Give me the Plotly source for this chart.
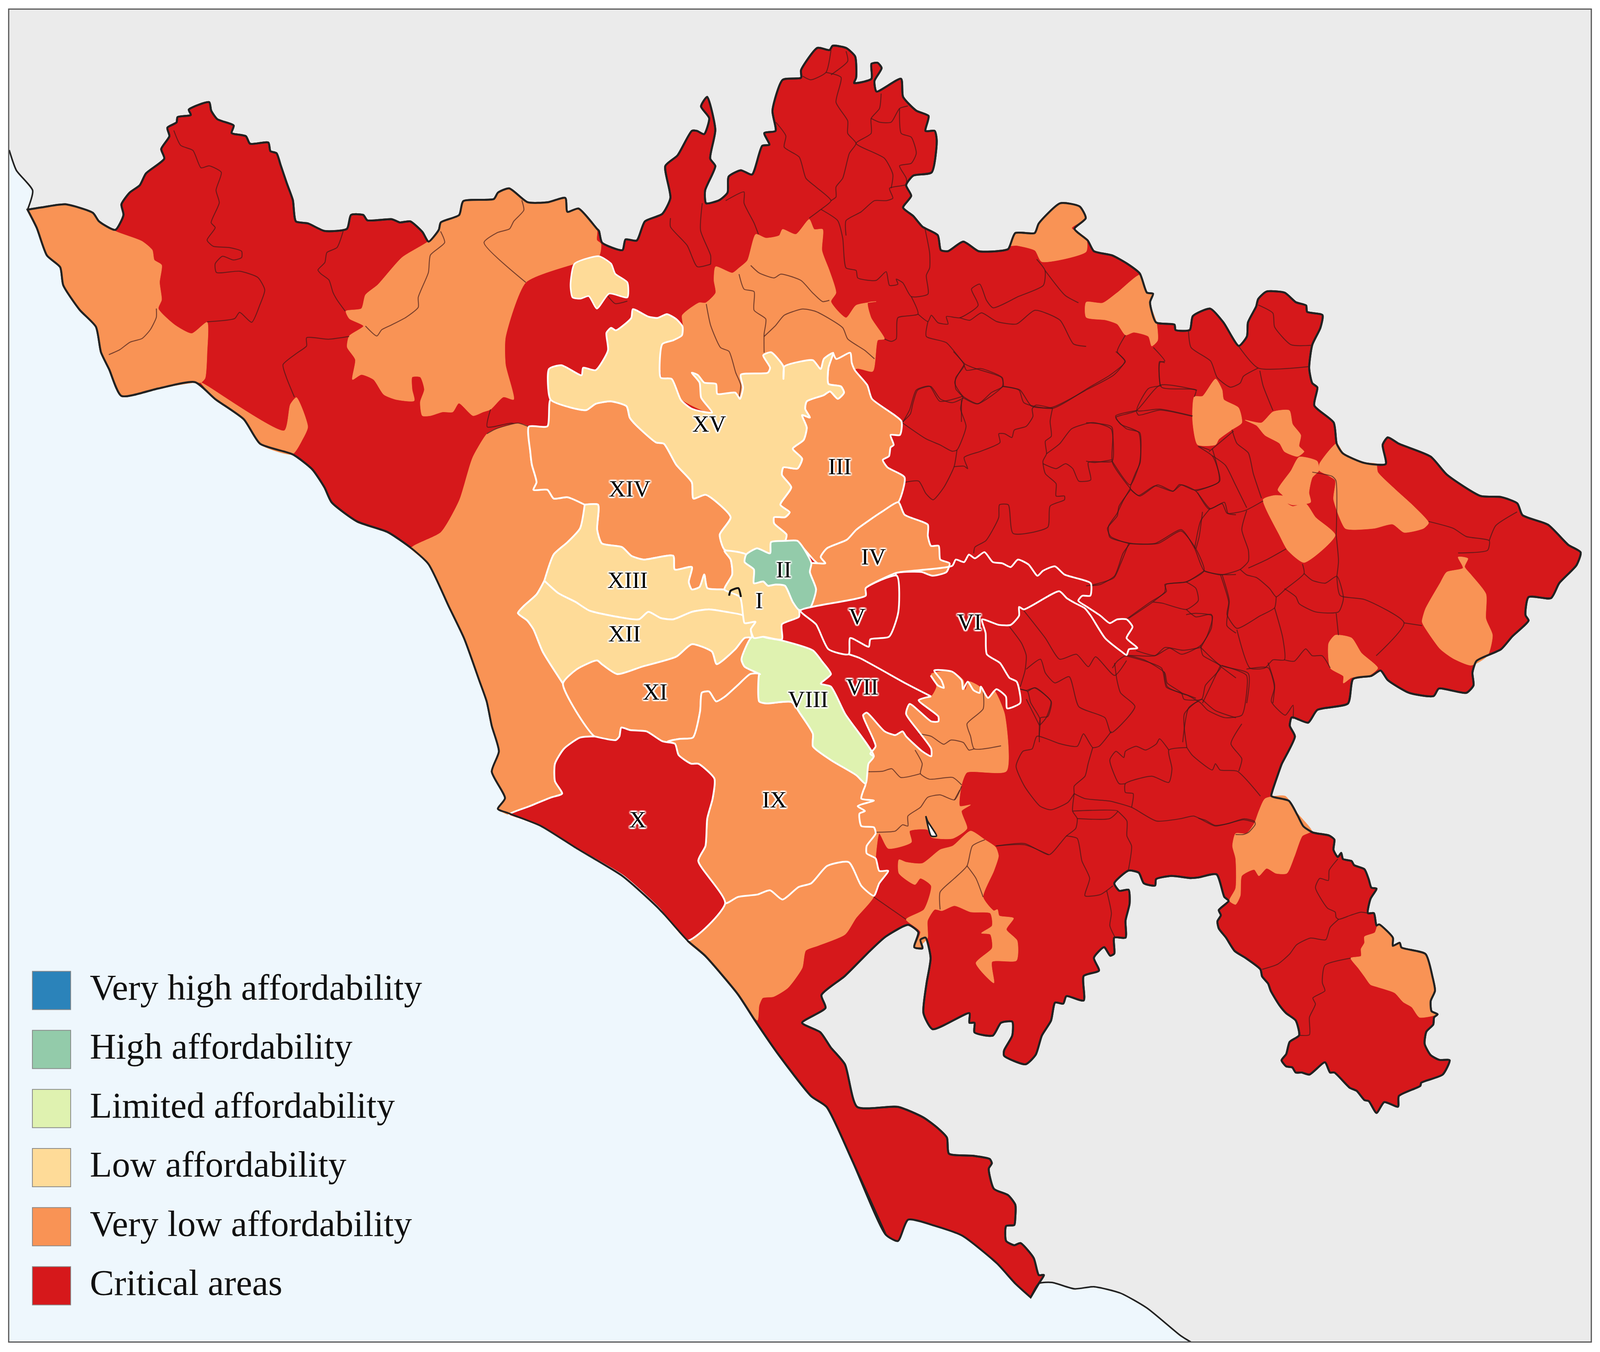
# housing affordability map of the Rome metropolitan area
# all outlines

import plotly.graph_objects as go

SCALE = 4272 / 1568  # picture px per map unit


def crop(x0, y0, w, h, pts):
    return [((x0 + x * w / 1568) / SCALE, (y0 + y * h / 1568) / SCALE) for x, y in pts]


def z1(pts): return crop(1300, 750, 1300, 1000, pts)
def z2(pts): return crop(1300, 1700, 1500, 1000, pts)
def z4(pts): return crop(0, 200, 1700, 1000, pts)
def z5(pts): return crop(2300, 1700, 1300, 1000, pts)
def z6(pts): return crop(2900, 700, 1372, 1100, pts)
def z7(pts): return crop(1500, 80, 1400, 1000, pts)
def z8(pts): return crop(2300, 900, 1000, 1000, pts)
def z10(pts): return crop(3200, 2050, 720, 820, pts)


RED = "#d6181b"
ORANGE = "#f99355"
LOW = "#fedb98"
LIMITED = "#dff2b0"
HIGH = "#93cbaa"
VERY_HIGH = "#2b83ba"
SEA = "#eef7fd"
LAND = "#ebebeb"
BORDER = "#222222"
INNER = "rgba(60,25,25,0.68)"

legend_labels = ["Very high affordability", "High affordability", "Limited affordability",
                 "Low affordability", "Very low affordability", "Critical areas"]
legend_colors = [VERY_HIGH, HIGH, LIMITED, LOW, ORANGE, RED]
legend_y = [930.6, 986.1, 1041.6, 1097.1, 1152.6, 1208.1]

label_text = ["XV", "III", "XIV", "IV", "II", "XIII", "I", "V", "VI", "XII", "XI", "VII", "VIII", "IX", "X"]
label_x = [695, 823, 617, 856, 768, 615, 744, 840, 950, 612, 642, 845, 792, 759, 625]
label_y = [400, 440, 461, 525, 537, 547, 566, 581, 586, 597, 652, 647, 659, 753, 772]

coast_nw = [(9, 141), (16, 160), (32, 179), (27, 197)]
coast_w = [(27, 197), (36, 214), (46, 240), (59, 251), (62, 268), (78, 291), (94, 307), (99, 331), (107, 347),
           (119, 372), (155, 365), (191, 359), (211, 375), (239, 394), (255, 417), (287, 427), (306, 441), (318, 458),
           (325, 472), (350, 490), (380, 500), (403, 515), (420, 530), (440, 570), (455, 600), (470, 640), (477, 659),
           (482, 682), (489, 706), (482, 725), (495, 750), (488, 760), (498, 764), (530, 776), (565, 797), (610, 823),
           (645, 853), (674, 884), (691, 898), (723, 934), (740, 959), (763, 991), (795, 1030), (810, 1040), (835, 1090),
           (868, 1160), (880, 1166), (890, 1146), (917, 1152), (943, 1161), (977, 1187), (995, 1206), (1010, 1219)]
coast_se = [(1010, 1219), (1018, 1206), (1031, 1205), (1053, 1211), (1072, 1209), (1098, 1215), (1124, 1229),
            (1157, 1255), (1167, 1261)]

inland_north = [(27, 197), (40, 195), (64, 192), (91, 200), (97, 208), (113, 216), (121, 202), (119, 192), (127, 181),
                (137, 174), (143, 163), (161, 149), (158, 140), (166, 128), (164, 120), (173, 115), (174, 110),
                (187, 108), (185, 103), (205, 96), (207, 104), (213, 112), (229, 118), (227, 125), (241, 128),
                (245, 135), (263, 134), (265, 142), (271, 144), (275, 155), (281, 172), (287, 188), (290, 208),
                (302, 210), (318, 217), (340, 215), (344, 202), (356, 202), (360, 207), (384, 206), (392, 209),
                (402, 208), (414, 218), (420, 227), (430, 216), (432, 209), (450, 202), (454, 189), (484, 187),
                (488, 181), (499, 177), (517, 190), (537, 190), (554, 186), (556, 199), (567, 196), (585, 215),
                (587, 217), (590, 228), (610, 235), (613, 225), (624, 226), (632, 208), (649, 201), (657, 186),
                (652, 156), (664, 146), (678, 123), (683, 123), (690, 126), (695, 111), (687, 100), (693, 91),
                (701, 122), (696, 149), (701, 156), (691, 179), (692, 191), (705, 188), (713, 181), (714, 166),
                (726, 160), (737, 164), (747, 137), (754, 136), (749, 125), (760, 123), (757, 104), (767, 75),
                (785, 73), (785, 66), (801, 45), (813, 47), (816, 43), (829, 45), (838, 53), (839, 73), (837, 78),
                (854, 74), (854, 60), (860, 59), (864, 64), (857, 76), (859, 86), (883, 74), (885, 91), (898, 104),
                (910, 109), (907, 123), (916, 123), (918, 132), (913, 162), (895, 165), (888, 174), (893, 184),
                (885, 195), (895, 203), (904, 213), (919, 221), (922, 235), (929, 236), (944, 227), (959, 236),
                (977, 236), (988, 234), (995, 219), (1014, 219), (1018, 210), (1039, 191), (1058, 194), (1064, 205),
                (1053, 215), (1066, 226), (1072, 236), (1090, 240), (1105, 248), (1117, 257), (1124, 275), (1130, 276),
                (1127, 284), (1133, 303), (1151, 305), (1152, 310), (1166, 310), (1169, 297), (1186, 290), (1199, 303),
                (1214, 325), (1222, 316), (1223, 303), (1231, 288), (1233, 281), (1241, 274), (1259, 275), (1270, 284),
                (1280, 287), (1281, 293), (1296, 296), (1294, 308), (1286, 324), (1283, 346), (1286, 360), (1291, 364),
                (1288, 381), (1307, 397), (1310, 417), (1316, 426), (1337, 435), (1358, 436), (1355, 418), (1360, 411),
                (1371, 417), (1402, 429), (1418, 446), (1451, 466), (1471, 467), (1487, 473), (1492, 484), (1517, 493),
                (1537, 512), (1549, 519), (1545, 531), (1528, 548), (1520, 562), (1498, 561), (1495, 578), (1498, 583),
                (1482, 598), (1471, 610), (1447, 621), (1443, 632), (1444, 644), (1437, 651), (1410, 647), (1405, 654),
                (1381, 651), (1360, 639), (1353, 630), (1344, 635), (1326, 638), (1321, 661), (1291, 667), (1282, 679),
                (1266, 674), (1264, 682), (1269, 692), (1256, 718), (1253, 726), (1247, 743), (1246, 748)]
inland_southeast = z10([(525, 0), (575, 70), (610, 125), (665, 155), (760, 170), (790, 190), (785, 240), (810, 275),
                        (830, 255), (840, 285), (890, 295), (905, 315), (965, 335), (990, 385), (1005, 425), (1035, 430),
                        (1000, 480), (985, 550), (1020, 550), (1035, 610), (1050, 605), (1130, 670), (1130, 710),
                        (1170, 695), (1180, 718), (1320, 750), (1360, 860), (1375, 930), (1350, 980), (1355, 1030),
                        (1390, 1045), (1370, 1060), (1365, 1095), (1325, 1130), (1315, 1190), (1350, 1245), (1400, 1268),
                        (1460, 1270), (1420, 1340), (1295, 1380), (1290, 1395), (1165, 1445), (1160, 1497), (1080, 1475),
                        (1035, 1528), (990, 1470), (965, 1465), (920, 1420), (880, 1405), (790, 1330), (765, 1330),
                        (735, 1280), (645, 1340), (600, 1330), (565, 1330), (545, 1305), (510, 1300), (483, 1270),
                        (510, 1240), (530, 1180), (585, 1148), (565, 1075), (510, 1040), (470, 1000), (420, 930),
                        (405, 895), (370, 860), (360, 825), (275, 770), (210, 735), (160, 670), (118, 625), (110, 590),
                        (130, 560), (118, 535), (175, 490), (150, 470), (105, 360), (0, 375)])
inland_south = [(1167, 825), (1148, 823), (1133, 826), (1132, 832), (1121, 830), (1116, 820), (1106, 818), (1092, 830),
                (1097, 837), (1106, 836), (1107, 849), (1103, 865), (1103, 881), (1092, 881), (1092, 896), (1088, 898),
                (1082, 890), (1072, 900), (1077, 912), (1062, 917), (1062, 940), (1045, 936), (1042, 943), (1034, 942),
                (1030, 959), (1021, 973), (1015, 991), (1005, 1000), (984, 992), (984, 987), (992, 973), (992, 960),
                (981, 961), (973, 973), (955, 970), (955, 961), (950, 961), (950, 952), (914, 967), (905, 952),
                (908, 924), (912, 900), (907, 881), (902, 883), (904, 891), (896, 890), (900, 876), (890, 869),
                (868, 880), (853, 893), (828, 917), (805, 935), (809, 947), (786, 961), (804, 970), (814, 984),
                (828, 1000), (840, 1040), (880, 1040), (905, 1050), (919, 1060), (928, 1069), (930, 1084), (954, 1086),
                (970, 1089), (972, 1093), (969, 1098), (974, 1117), (988, 1123), (995, 1132), (995, 1144), (994, 1151),
                (986, 1152), (986, 1166), (994, 1170), (1000, 1168), (1013, 1182), (1018, 1198), (1023, 1198),
                (1018, 1206), (1010, 1219)]
inland_border = inland_north + inland_southeast + inland_south

# white boundary shared by XV with III
xv_iii_edge = [(1115, 240), (1100, 300), (1100, 365), (1140, 375), (1150, 400), (1130, 425), (1105, 395), (1085, 410),
               (1030, 435), (1025, 465), (1040, 500), (1015, 490), (1030, 540), (1020, 590), (985, 625), (1015, 665),
               (1000, 705), (955, 700), (950, 730), (980, 780), (945, 850), (975, 880), (960, 900), (925, 900),
               (925, 925), (965, 970), (960, 995)]
# white boundary shared by XV with XIV, south to north
xv_xiv_edge = [(765, 1030), (750, 970), (785, 900), (705, 810), (665, 825), (660, 760), (610, 690), (570, 605),
               (545, 600), (480, 530), (460, 500), (450, 455), (400, 435), (350, 445), (320, 470), (270, 460), (205, 428)]
xiii_xii_edge = [(185, 1155), (230, 1205), (285, 1240), (330, 1275), (420, 1300), (490, 1310), (520, 1280), (560, 1305),
                 (600, 1310), (660, 1280), (715, 1270), (770, 1280), (825, 1295)]
xiv_xiii_edge = [(315, 850), (358, 850), (355, 950), (370, 1005), (435, 1020), (465, 1055), (505, 1070), (600, 1055),
                 (605, 1110), (660, 1100), (650, 1160), (660, 1190), (685, 1180), (700, 1130), (710, 1185), (765, 1190)]
fiumicino_xiv_edge = [(135, 537), (140, 640), (145, 690), (160, 760), (150, 790), (195, 790), (215, 825), (260, 820),
                      (315, 850)]
fiumicino_xiii_edge = [(315, 850), (300, 945), (260, 1000), (215, 1050), (185, 1155)]
fiumicino_xii_edge = [(185, 1155), (160, 1210), (120, 1255), (100, 1285), (130, 1315), (150, 1350), (180, 1440),
                      (245, 1568)]
xii_xi_edge = [(245, 1568), (290, 1510), (355, 1475), (370, 1490), (420, 1530), (500, 1500), (610, 1460), (660, 1410),
               (725, 1440), (740, 1490), (800, 1430), (830, 1385), (855, 1385)]
x_edge = [(300, 290), (360, 305), (370, 290), (375, 255), (400, 265), (445, 270), (490, 310), (525, 320), (535, 365),
          (570, 400), (590, 400), (635, 460), (630, 540), (615, 620), (610, 730), (590, 790), (665, 960)]
x_fiumicino_edge = [(61, 605), (120, 570), (180, 535), (210, 520), (190, 470), (190, 400), (215, 340), (260, 295),
                    (300, 290)]
ix_south_edge = [(665, 960), (700, 935), (755, 925), (790, 908), (825, 945), (870, 895), (905, 880), (950, 810),
                 (1010, 795), (1045, 890), (1080, 930)]
ix_east_edge = [(1080, 930), (1095, 880), (1120, 830), (1095, 830), (1085, 780), (1060, 760), (1060, 730), (1085, 680),
                (1080, 655), (1045, 650), (1040, 600), (1055, 590), (1035, 570), (1080, 548), (1045, 540), (1050, 510),
                (1057, 480)]
viii_ix_edge = [(1057, 480), (1030, 445), (960, 385), (910, 330), (910, 280), (875, 200), (850, 152), (780, 158),
                (760, 150), (760, 40)]
xi_ix_edge = [(735, 40), (700, 85), (665, 130), (640, 150), (620, 110), (600, 115), (595, 190), (575, 295), (540, 300),
              (505, 310), (525, 320)]
vii_cluster_edge = [(1240, 130), (1205, 145), (1260, 210), (1260, 230), (1240, 230), (1180, 160), (1170, 200),
                    (1205, 270), (1240, 340), (1240, 370), (1215, 350), (1170, 290), (1160, 270), (1140, 285),
                    (1110, 270), (1060, 195), (1050, 205), (1085, 330), (1070, 360)]
vi_cluster_edge = [(290, 1300), (320, 1340), (345, 1350), (335, 1320), (305, 1280), (380, 1285), (420, 1320),
                   (425, 1355), (445, 1325), (470, 1360), (495, 1370), (500, 1345), (530, 1390), (565, 1355),
                   (605, 1385), (610, 1432), (665, 1410), (650, 1325), (620, 1310), (580, 1250), (525, 1215),
                   (520, 1130), (505, 1075), (575, 1097), (625, 1097), (660, 1060), (660, 1025), (680, 1035),
                   (828, 962), (860, 990), (895, 1010), (935, 1030), (960, 1060), (1020, 1150), (1090, 1205),
                   (1110, 1218), (1120, 1195), (1155, 1190), (1110, 1150), (1135, 1105), (1110, 1075), (1070, 1075),
                   (1040, 1090), (1000, 1060), (945, 1025), (908, 1000), (925, 980), (958, 980), (960, 930), (850, 895),
                   (810, 862), (760, 880), (737, 900), (700, 855), (655, 835), (625, 865), (590, 850), (550, 845),
                   (515, 805), (475, 830), (450, 815), (430, 845), (395, 835), (380, 860)]

orange_areas = [
    z4([(68, 530), (100, 518), (160, 508), (230, 540), (245, 575), (285, 615), (350, 655), (375, 690), (380, 730),
        (398, 750), (393, 820), (398, 890), (390, 925), (430, 990), (472, 1025), (510, 980), (510, 1100), (505, 1205),
        (495, 1222), (480, 1222), (390, 1245), (300, 1275), (268, 1170), (250, 1100), (235, 1000), (195, 930),
        (155, 830), (148, 760), (115, 710), (90, 600)]),
    z4([(495, 1222), (510, 1235), (700, 1415), (715, 1310), (730, 1282), (758, 1400), (745, 1450), (720, 1510),
        (640, 1470), (600, 1370), (530, 1290)]),
    z4([(1055, 655), (1080, 610), (1085, 580), (1130, 550), (1140, 495), (1215, 485), (1225, 460), (1255, 445),
        (1300, 500), (1350, 500), (1392, 480), (1397, 535), (1425, 525), (1470, 605), (1470, 650), (1480, 665),
        (1475, 715), (1415, 745), (1295, 820), (1245, 1040), (1245, 1150), (1265, 1290), (1240, 1280), (1208, 1330),
        (1190, 1340), (1165, 1355), (1130, 1305), (1115, 1340), (1090, 1340), (1060, 1355), (1040, 1355), (1035, 1300),
        (1045, 1250), (1035, 1200), (1015, 1200), (1015, 1250), (1020, 1295), (975, 1290), (945, 1270), (920, 1210),
        (890, 1190), (868, 1210), (875, 1130), (855, 1080), (860, 1035), (895, 995), (860, 965), (852, 935), (890, 925),
        (900, 870), (930, 830), (990, 720)]),
    z7([(460, 945), (510, 970), (530, 950), (555, 920), (580, 815), (610, 830), (650, 820), (660, 795), (700, 815),
        (740, 755), (755, 795), (780, 795), (778, 880), (800, 960), (820, 1050), (805, 1085), (850, 1150), (880, 1100),
        (940, 1085), (915, 1090), (925, 1150), (965, 1235), (945, 1240), (930, 1365), (880, 1355), (800, 1500),
        (440, 1530), (350, 1470), (325, 1395), (300, 1390), (300, 1260), (350, 1220), (362, 1180), (360, 1140),
        (410, 1090), (430, 1090), (460, 1050), (455, 1000)]),
    z7([(1340, 860), (1355, 810), (1415, 810), (1425, 770), (1490, 690), (1550, 705), (1568, 750), (1525, 790),
        (1568, 830), (1568, 885), (1435, 925), (1415, 880), (1360, 860)]),
    z6([(0, 105), (50, 108), (95, 70), (165, 5), (185, 70), (205, 75), (195, 105), (215, 180), (218, 245), (200, 265),
        (190, 230), (145, 215), (120, 225), (95, 185), (60, 170), (0, 160)]),
    z6([(330, 450), (355, 448), (395, 385), (415, 425), (420, 460), (465, 490), (475, 545), (445, 570), (405, 605),
        (395, 625), (340, 625), (325, 540)]),
    z6([(485, 535), (535, 545), (570, 505), (620, 500), (630, 550), (655, 590), (650, 630), (665, 650), (645, 668),
        (605, 650), (590, 620), (545, 590), (520, 555)]),
    z6([(650, 670), (705, 685), (710, 720), (690, 745), (680, 800), (685, 835), (630, 845), (610, 835), (600, 810),
        (585, 790), (625, 720)]),
    z6([(540, 825), (575, 810), (610, 815), (615, 840), (630, 850), (670, 840), (700, 890), (760, 955), (665, 1055),
        (615, 1010), (590, 955)]),
    z6([(712, 695), (765, 620), (785, 655), (850, 690), (885, 695), (890, 725), (945, 790), (1000, 850), (1045, 910),
        (1030, 930), (970, 945), (935, 915), (880, 930), (815, 935), (790, 930), (755, 825), (760, 755), (735, 735),
        (712, 720)]),
    z6([(1135, 1035), (1165, 1040), (1155, 1070), (1175, 1100), (1220, 1170), (1220, 1260), (1240, 1320), (1225, 1395),
        (1175, 1430), (1120, 1405), (1080, 1370), (1030, 1285), (1025, 1270), (1035, 1225), (1080, 1130), (1100, 1090),
        (1150, 1075)]),
    z6([(760, 1320), (810, 1330), (840, 1385), (890, 1440), (860, 1470), (810, 1475), (785, 1495), (785, 1470),
        (745, 1440), (740, 1350)]),
    z5([(1300, 540), (1365, 530), (1405, 600), (1450, 670), (1420, 690), (1395, 770), (1370, 840), (1335, 840),
        (1305, 820), (1280, 850), (1265, 825), (1225, 850), (1220, 930), (1205, 965), (1185, 950), (1205, 900),
        (1205, 780), (1195, 730), (1205, 680), (1240, 680), (1265, 640), (1280, 590)]),
    z10([(1045, 605), (1130, 670), (1130, 710), (1170, 695), (1180, 718), (1320, 750), (1360, 860), (1375, 930),
         (1350, 980), (1355, 1030), (1390, 1045), (1285, 1060), (1240, 1010), (1190, 985), (1140, 940), (1035, 910),
         (1000, 900), (965, 860), (930, 820), (885, 770), (945, 760), (945, 725), (965, 695), (965, 665), (1025, 645)]),
    # colli albani side, north cluster
    z2(vii_cluster_edge + [(1065, 400), (1057, 480)] + ix_east_edge[::-1]
       + [(1095, 680), (1120, 740), (1185, 715), (1180, 670), (1230, 665), (1240, 695), (1300, 700), (1340, 660),
          (1325, 590), (1350, 565), (1320, 570), (1325, 485), (1340, 435), (1450, 430), (1445, 200), (1415, 105),
          (1400, 135), (1375, 90), (1345, 70), (1335, 105), (1330, 65), (1300, 30), (1265, 30), (1240, 40), (1255, 90)]),
    z2([(1150, 785), (1170, 795), (1215, 800), (1265, 745), (1300, 730), (1350, 670), (1390, 705), (1420, 735),
        (1428, 770), (1415, 830), (1385, 935), (1415, 990), (1425, 985), (1430, 1010), (1470, 1020), (1450, 1065),
        (1480, 1110), (1478, 1190), (1410, 1195), (1415, 1280), (1365, 1200), (1410, 1140), (1405, 1085), (1380, 1080),
        (1410, 1050), (1405, 1000), (1350, 995), (1305, 970), (1270, 990), (1250, 985), (1230, 1030), (1230, 1100),
        (1215, 1125), (1215, 1135), (1195, 1135), (1210, 1075), (1170, 1025), (1220, 985), (1240, 890), (1210, 860),
        (1195, 885), (1150, 840)]),
    # pomezia side, south of IX
    z2(ix_south_edge + [(1030, 1020), (1000, 1085), (925, 1130), (890, 1150), (880, 1220), (840, 1300), (800, 1335),
                        (770, 1340), (760, 1370), (755, 1430), (700, 1325), (610, 1172), (560, 1110)]),
]

inner_lines = [
    z4([(385, 925), (385, 960), (370, 1010), (350, 1045), (320, 1060), (295, 1090), (268, 1110)]),
    z4([(1085, 615), (1095, 660), (1060, 710), (1055, 780), (1030, 880), (1030, 920), (1000, 960), (965, 990),
        (940, 1010), (928, 1035), (900, 995)]),
    z4([(1285, 490), (1290, 530), (1265, 575), (1255, 605), (1225, 620), (1192, 660), (1295, 820)]),
    z4([(428, 210), (445, 270), (475, 290), (495, 360), (515, 352), (545, 378), (532, 450), (540, 500), (520, 580),
        (530, 600), (510, 650), (525, 675), (565, 680), (595, 695), (595, 720), (575, 730), (548, 715), (530, 745),
        (533, 780), (590, 775), (635, 800), (652, 850), (640, 910), (620, 980), (590, 940), (578, 965), (510, 978)]),
    z4([(845, 615), (830, 680), (805, 700), (800, 740), (783, 770), (790, 785), (810, 810), (820, 860), (830, 890),
        (850, 935)]),
    z4([(860, 1037), (810, 1048), (755, 1042), (755, 1075), (730, 1105), (697, 1150), (705, 1200), (725, 1280)]),
    z4([(1208, 1330), (1200, 1400), (1260, 1385), (1290, 1398), (1303, 1400)]),
    z7([(325, 750), (325, 785), (375, 860), (405, 945), (445, 935)]),
    z7([(420, 690), (415, 800), (445, 900), (445, 935)]),
    z7([(490, 680), (545, 645), (545, 690), (575, 770), (588, 815)]),
    z7([(640, 365), (670, 420), (665, 465), (710, 505), (730, 590), (760, 625), (805, 680), (775, 715), (740, 750)]),
    z7([(720, 180), (745, 195), (790, 165), (805, 75)]),
    z7([(790, 165), (835, 185), (820, 285), (855, 360), (855, 410), (880, 450), (860, 490), (840, 590), (820, 625),
        (820, 665), (805, 680)]),
    z7([(850, 80), (855, 120), (805, 175)]),
    z7([(955, 250), (950, 310), (925, 350), (925, 410), (880, 450), (965, 510), (990, 575), (985, 630)]),
    z7([(925, 350), (950, 365), (985, 365), (1010, 310), (1035, 300)]),
    z7([(1010, 310), (1015, 410), (1045, 425), (1060, 490), (1045, 530), (1010, 540), (1030, 590), (1030, 615),
        (980, 630), (990, 670), (970, 680), (935, 680), (895, 725), (850, 760), (850, 820)]),
    z7([(775, 715), (825, 760), (840, 830), (850, 950), (880, 960), (885, 990), (940, 1000), (970, 965), (980, 1020),
        (1005, 1015), (1000, 995), (1020, 1010), (1045, 1065), (1095, 1055), (1090, 980), (1100, 950), (1100, 890),
        (1085, 785)]),
    z7([(1045, 1065), (1065, 1135), (1005, 1150), (1000, 1235), (985, 1245), (965, 1235)]),
    z7([(1065, 1135), (1095, 1165), (1105, 1140), (1125, 1170), (1155, 1175), (1150, 1145), (1190, 1150), (1245, 1100),
        (1225, 1035), (1250, 1015), (1270, 1080), (1290, 1110), (1365, 1065), (1440, 1020), (1445, 960), (1420, 915)]),
    z7([(1095, 1165), (1090, 1225), (1150, 1250), (1205, 1335), (1240, 1355), (1315, 1390), (1320, 1425), (1285, 1450),
        (1245, 1495), (1200, 1465), (1175, 1410), (1205, 1335)]),
    z7([(1190, 1150), (1220, 1160), (1255, 1130), (1300, 1165), (1360, 1175), (1415, 1120), (1490, 1160), (1530, 1255),
        (1568, 1265)]),
    z7([(1320, 1425), (1370, 1440), (1405, 1505), (1465, 1510), (1568, 1440)]),
    z7([(1200, 1465), (1130, 1485), (1100, 1425), (1060, 1440), (1040, 1520), (1020, 1568)]),
    z7([(1445, 960), (1505, 1060), (1545, 1090)]),
    z7([(1195, 1480), (1195, 1568)]),
    z7([(530, 975), (545, 1035), (575, 1045), (575, 1120), (610, 1155), (605, 1215), (605, 1290)]),
    z7([(565, 940), (590, 970), (635, 990), (655, 975), (715, 1000), (750, 1050), (780, 1085), (800, 1080)]),
    z7([(605, 1225), (640, 1180), (665, 1140), (720, 1115), (760, 1125), (840, 1190), (855, 1235), (905, 1280),
        (935, 1315)]),
    z7([(432, 1095), (445, 1180), (475, 1270), (500, 1285), (520, 1370), (535, 1420), (530, 1470)]),
    z8([(170, 285), (205, 250), (215, 210), (235, 155), (290, 140), (330, 190), (380, 205), (425, 185), (395, 150),
        (395, 105), (430, 55), (385, 0)]),
    z8([(425, 185), (485, 210), (590, 140), (590, 105), (500, 68), (440, 75), (430, 55)]),
    z8([(590, 140), (660, 155), (680, 205), (800, 228), (960, 140), (1040, 95), (1105, 40), (1065, 0)]),
    z8([(425, 185), (415, 230), (438, 300), (400, 395), (380, 400), (330, 375), (270, 350), (170, 285)]),
    z8([(400, 395), (388, 462), (345, 545), (300, 595), (270, 570), (240, 520), (180, 525)]),
    z8([(388, 462), (430, 460), (445, 470), (430, 425), (500, 400), (580, 365), (575, 330), (600, 330), (630, 345),
        (640, 315), (690, 300), (718, 260), (715, 230), (730, 215), (800, 228)]),
    z8([(800, 228), (790, 280), (795, 340), (770, 360), (775, 410), (760, 440), (770, 490), (815, 530), (815, 580),
        (850, 580), (850, 595), (790, 620), (780, 705), (635, 730), (615, 615), (578, 615), (575, 665), (550, 715),
        (520, 760), (475, 785), (470, 810)]),
    z8([(775, 410), (830, 370), (880, 310), (970, 285), (1045, 310), (1055, 380), (1050, 440), (950, 445), (960, 515),
        (910, 520), (885, 470), (855, 450), (815, 470), (760, 450)]),
    z8([(1050, 440), (1125, 535), (1165, 445), (1165, 325), (1110, 310), (1065, 265), (1150, 238), (1250, 135),
        (1405, 155)]),
    z8([(1150, 238), (1160, 255), (1250, 235), (1385, 260)]),
    z8([(1250, 135), (1248, 40), (1270, 45)]),
    z8([(1125, 550), (1095, 600), (1070, 650), (1035, 700), (1040, 745), (1130, 770), (1230, 770), (1340, 715),
        (1395, 790), (1435, 880), (1510, 895), (1568, 895)]),
    z8([(1125, 550), (1165, 580), (1240, 535), (1305, 560), (1340, 535), (1400, 560), (1460, 630), (1520, 605),
        (1535, 650), (1568, 655)]),
    z8([(1125, 770), (1095, 810), (1060, 900), (1000, 935), (960, 940)]),
    z8([(1460, 630), (1420, 680), (1395, 790)]),
    z8([(1400, 560), (1500, 520), (1470, 420), (1410, 380), (1458, 395)]),
    z8([(1435, 880), (1360, 925), (1275, 935), (1270, 965), (1220, 1005), (1120, 1070)]),
    z8([(1220, 1005), (1260, 1010), (1360, 1035), (1410, 1000), (1400, 950), (1360, 925)]),
    z8([(1360, 1035), (1400, 1065), (1465, 1055), (1465, 1110), (1420, 1180), (1340, 1215), (1290, 1190), (1230, 1220),
        (1150, 1200)]),
    z8([(1420, 1180), (1430, 1220), (1505, 1265), (1440, 1340), (1425, 1395), (1350, 1395), (1340, 1370), (1280, 1330),
        (1270, 1290), (1190, 1240), (1120, 1220)]),
    z8([(1505, 1265), (1568, 1310)]),
    z8([(1510, 895), (1540, 1000), (1530, 1100), (1568, 1130)]),
    z8([(1425, 1395), (1370, 1430), (1345, 1568)]),
    z8([(1425, 1395), (1480, 1440), (1568, 1470)]),
    z8([(620, 1105), (670, 1170), (690, 1220), (685, 1280), (665, 1345)]),
    z8([(680, 1040), (770, 1150), (830, 1235), (900, 1215), (950, 1265), (980, 1225), (1060, 1300), (1110, 1240)]),
    z8([(1060, 1250), (1070, 1320), (1085, 1370), (1145, 1425), (1045, 1530), (1020, 1470), (910, 1425), (870, 1305),
        (810, 1330), (770, 1290), (750, 1235), (690, 1275)]),
    z8([(665, 1355), (690, 1360), (725, 1350), (795, 1405), (780, 1465), (750, 1470), (745, 1568)]),
    z8([(690, 1395), (745, 1500)]),
    z5([(805, 270), (765, 330), (745, 335), (715, 280), (695, 330), (640, 320), (565, 290), (550, 340), (520, 350),
        (498, 410), (525, 490), (575, 570), (610, 585), (665, 555), (685, 520)]),
    z5([(745, 335), (730, 400), (720, 450), (685, 490), (685, 520), (680, 590), (695, 620), (690, 660), (660, 690),
        (640, 720), (605, 765), (525, 720), (435, 730)]),
    z5([(685, 520), (720, 540), (800, 550), (870, 575), (950, 630), (1030, 620), (1070, 610), (1140, 650), (1230, 625),
        (1265, 635)]),
    z5([(680, 590), (825, 590), (800, 620), (695, 620)]),
    z5([(825, 590), (855, 630), (855, 690), (870, 730), (860, 825)]),
    z5([(870, 575), (875, 520), (850, 515), (850, 480), (935, 450), (990, 475), (1000, 420), (990, 345), (1048, 335)]),
    z5([(850, 480), (830, 480), (800, 385), (820, 350), (845, 375), (850, 350), (885, 330), (915, 345), (950, 320),
        (960, 300), (990, 345)]),
    z5([(1048, 335), (1040, 200), (1085, 150), (1115, 185), (1170, 215), (1225, 205), (1240, 120), (1240, 45),
        (1160, 5)]),
    z5([(1085, 150), (1050, 125), (1035, 120), (985, 90), (975, 30)]),
    z5([(1048, 335), (1065, 365), (1130, 425), (1140, 400), (1155, 425), (1210, 430), (1285, 530)]),
    z5([(1215, 430), (1225, 380), (1190, 320), (1225, 240)]),
    z5([(1240, 20), (1310, 15), (1330, 95), (1320, 150), (1365, 205), (1390, 165), (1390, 220)]),
    z5([(660, 690), (695, 700), (710, 790), (735, 860), (720, 930), (770, 925), (810, 890)]),
    z5([(790, 910), (805, 1000), (800, 1050), (818, 1100)]),
    z5([(510, 100), (535, 110), (545, 155), (575, 220), (572, 290)]),
    z5([(535, 110), (560, 95), (610, 150), (595, 215), (575, 245)]),
    z10([(0, 85), (40, 95), (95, 120), (170, 112), (265, 88), (325, 100), (330, 115), (290, 155), (260, 165), (215, 165)]),
    z10([(810, 285), (760, 340), (755, 390), (705, 380), (680, 425), (750, 525), (795, 545), (800, 570), (815, 580),
         (885, 560), (945, 545), (985, 550)]),
    z10([(815, 580), (765, 620), (740, 680), (650, 672), (570, 705), (530, 750), (460, 800), (370, 825)]),
    z10([(885, 770), (735, 805), (720, 890), (735, 930), (665, 965), (680, 995), (645, 1060), (645, 1145), (585, 1148)]),
    z6([(525, 115), (570, 145), (575, 195), (625, 260), (690, 262)]),
    z6([(465, 265), (525, 345), (680, 340)]),
    z6([(525, 345), (480, 375), (470, 400), (440, 415), (400, 380), (380, 320), (320, 270), (312, 205)]),
    z6([(530, 355), (540, 410), (570, 500)]),
    z6([(205, 270), (240, 320), (225, 325), (230, 415), (335, 425), (330, 450)]),
    z6([(120, 225), (95, 285), (118, 320), (85, 370), (0, 425)]),
    z6([(230, 410), (190, 420), (155, 500), (225, 495), (325, 520)]),
    z6([(155, 500), (90, 520), (105, 550), (160, 580), (165, 690), (150, 730), (135, 785), (160, 810), (210, 775),
        (265, 795), (285, 770), (330, 790), (405, 760), (385, 640)]),
    z6([(375, 650), (450, 575)]),
    z6([(445, 570), (460, 620), (495, 655), (510, 730), (535, 820)]),
    z6([(385, 665), (425, 700), (455, 770), (490, 855)]),
    z6([(340, 800), (375, 860), (415, 840), (430, 875), (485, 865), (540, 830)]),
    z6([(135, 785), (80, 690), (78, 560), (0, 545)]),
    z6([(78, 680), (25, 690), (0, 685)]),
    z6([(135, 790), (100, 850), (95, 885), (65, 930), (75, 960), (130, 985), (220, 985), (290, 940), (335, 1005),
        (360, 1085), (305, 1125), (265, 1130), (240, 1135), (245, 1160), (195, 1200), (125, 1260)]),
    z6([(130, 985), (105, 1060), (85, 1110), (25, 1135), (0, 1140)]),
    z6([(490, 865), (475, 935), (495, 1010), (495, 1050), (470, 1080), (410, 1100), (360, 1085)]),
    z6([(355, 870), (345, 960), (335, 1005)]),
    z6([(470, 1080), (490, 1100), (520, 1110), (560, 1150), (580, 1180), (610, 1150), (665, 1095), (660, 1060)]),
    z6([(495, 1075), (550, 1045), (610, 1005)]),
    z6([(665, 1095), (690, 1120), (730, 1130), (765, 1105), (785, 1185), (770, 1235), (700, 1235), (650, 1205),
        (640, 1180), (605, 1150)]),
    z6([(580, 1180), (575, 1220), (530, 1250), (460, 1295), (430, 1245), (435, 1200), (410, 1100)]),
    z6([(575, 1220), (600, 1330), (605, 1410), (570, 1410), (545, 1440), (500, 1440), (460, 1300)]),
    z6([(605, 1410), (635, 1415), (670, 1370), (690, 1395), (720, 1395), (745, 1440)]),
    z6([(765, 1105), (775, 1175), (850, 1190), (970, 1275), (885, 1395)]),
    z6([(763, 1240), (770, 1320)]),
    z6([(763, 955), (770, 1050), (765, 1105)]),
    z6([(1045, 905), (1120, 930), (1160, 960), (1230, 975), (1225, 1010), (1135, 1020)]),
    z6([(1230, 975), (1250, 920), (1315, 870)]),
    z6([(970, 1275), (1025, 1285)]),
    z6([(690, 725), (750, 740), (762, 755), (763, 955)]),
    z6([(350, 1365), (410, 1430), (495, 1460), (490, 1568)]),
    z6([(410, 1430), (355, 1568)]),
    z6([(350, 1365), (295, 1375), (240, 1365), (210, 1395), (120, 1395), (95, 1415), (80, 1440)]),
    z6([(120, 1395), (230, 1440), (245, 1510), (290, 1530), (335, 1550)]),
    z6([(305, 1245), (335, 1240), (385, 1250), (370, 1320), (350, 1365)]),
    z6([(555, 1420), (575, 1500), (570, 1568)]),
    z2([(1385, 105), (1385, 180), (1340, 240), (1350, 290), (1360, 340), (1435, 328)]),
    z2([(1360, 340), (1345, 345), (1330, 315), (1295, 305), (1275, 322), (1240, 290), (1205, 280)]),
    z2([(1195, 345), (1215, 400), (1210, 440), (1235, 462), (1300, 455), (1325, 485)]),
    z2([(1065, 432), (1105, 430), (1130, 420), (1155, 455), (1210, 440)]),
    z2([(1325, 490), (1305, 545), (1265, 525), (1230, 535), (1210, 575), (1175, 610), (1175, 650), (1160, 645),
        (1140, 670), (1085, 675)]),
    z2([(1390, 705), (1355, 730), (1340, 810), (1305, 860), (1265, 915), (1265, 985)]),
    z2([(1340, 810), (1365, 860), (1385, 935)]),
    z2([(1080, 935), (1170, 1025)]),
    z2([(1420, 730), (1500, 725), (1568, 765)]),
    z2([(1320, 505), (1305, 545)]),
]

# low affordability patch up north, inside the red
low_patch = z4([(1415, 745), (1475, 715), (1505, 745), (1515, 785), (1545, 820), (1545, 880), (1500, 865), (1470, 925),
                (1450, 875), (1430, 885), (1410, 880), (1405, 830)])
red_north_line = z4([(1497, 875), (1515, 905), (1545, 895)])
vatican_line = z1([(780, 1215), (785, 1195), (810, 1185), (818, 1220)])
lake_outline = z2([(1225, 610), (1240, 690), (1255, 690), (1230, 630), (1225, 610)])

region_iii = z1([(1115, 240), (1125, 265), (1170, 240), (1175, 280), (1185, 310), (1225, 370), (1240, 425), (1335, 515),
                 (1330, 570), (1300, 570), (1310, 610), (1300, 620), (1295, 655), (1275, 670), (1290, 700), (1345, 740),
                 (1325, 840), (1270, 880), (1190, 950), (1160, 990), (1095, 1025), (1075, 1060), (1090, 1085),
                 (1065, 1085), (1020, 1025), (1000, 995)] + xv_iii_edge[::-1])
region_iv = z1([(1325, 840), (1345, 890), (1420, 930), (1420, 975), (1430, 1015), (1455, 1015), (1460, 1070),
                (1490, 1085), (1480, 1120), (1435, 1135), (1400, 1120), (1340, 1120), (1315, 1125), (1220, 1185),
                (1220, 1215), (1040, 1265), (1060, 1190), (1040, 1120), (1045, 1085), (1065, 1085), (1090, 1085),
                (1075, 1060), (1095, 1025), (1160, 990), (1190, 950), (1270, 880)])
region_ii = z1([(915, 1000), (960, 995), (1000, 995), (1020, 1025), (1045, 1085), (1040, 1120), (1060, 1190),
                (1040, 1265), (1005, 1272), (985, 1240), (960, 1175), (930, 1170), (905, 1175), (890, 1158), (860, 1165),
                (860, 1110), (830, 1080), (835, 1050), (870, 1025), (912, 1045)])
region_xv = z1([(200, 305), (240, 290), (305, 330), (310, 300), (350, 310), (390, 230), (385, 160), (400, 140),
                (415, 150), (465, 100), (470, 65), (520, 95), (550, 100), (580, 85), (610, 105), (630, 135), (628, 170),
                (600, 190), (565, 205), (560, 340), (595, 345), (625, 430), (660, 465), (725, 480), (690, 420),
                (685, 360), (660, 320), (680, 330), (700, 360), (738, 365), (742, 405), (800, 400), (815, 425),
                (825, 380), (818, 328), (905, 320), (912, 300), (890, 250), (915, 238), (955, 295), (955, 345),
                (958, 295), (1010, 275), (1050, 270), (1075, 305), (1085, 265)]
               + xv_iii_edge + [(915, 1000), (912, 1045), (870, 1025), (835, 1050), (810, 1040)]
               + xv_xiv_edge)
region_xiv = z1(xv_xiv_edge[::-1] + [(785, 1070), (790, 1130), (765, 1190)] + xiv_xiii_edge[::-1]
                + fiumicino_xiv_edge[::-1] + [(195, 535)])
region_xiii = z1(xiv_xiii_edge + [(790, 1195), (815, 1220)] + xiii_xii_edge[::-1] + fiumicino_xiii_edge[::-1])
region_xii = z1(xiii_xii_edge + [(830, 1325), (865, 1320), (850, 1350), (855, 1385)] + xii_xi_edge[::-1]
                + fiumicino_xii_edge[::-1])
region_i = z1([(765, 1035), (810, 1040), (835, 1050), (830, 1080), (860, 1110), (860, 1165), (890, 1158), (905, 1175),
               (930, 1170), (960, 1175), (985, 1240), (1005, 1272), (1005, 1300), (950, 1330), (950, 1390), (890, 1380),
               (860, 1385), (850, 1350), (865, 1320), (830, 1325), (825, 1295), (815, 1220), (765, 1190), (790, 1130),
               (785, 1070)])
region_viii = (z1([(885, 1365), (890, 1380), (950, 1395), (1050, 1435), (1080, 1480), (1108, 1530), (1075, 1568)])
               + z2([(960, 90), (1000, 200), (1080, 370), (1065, 400)] + viii_ix_edge)
               + z1([(880, 1530), (830, 1500), (820, 1470), (850, 1385)]))
region_ix = z2(xi_ix_edge + x_edge[8:] + ix_south_edge[1:] + ix_east_edge[1:] + viii_ix_edge[1:])
region_xi = (z1(xii_xi_edge + [(870, 1430), (860, 1440), (820, 1470), (830, 1500)])
             + z2([(760, 40), (735, 40)] + xi_ix_edge[1:] + x_edge[::-1][9:]))
region_x = z2(x_fiumicino_edge + x_edge + [(560, 1110), (480, 980), (380, 850), (250, 740), (150, 650)])
region_fiumicino = (z1([(0, 565), (30, 545), (100, 522)] + fiumicino_xiv_edge + fiumicino_xiii_edge[1:]
                       + fiumicino_xii_edge[1:])
                    + z2([(275, 225), (300, 290)] + x_fiumicino_edge[::-1][1:] + [(30, 580), (50, 540), (15, 430),
                                                                                  (35, 350), (15, 250), (0, 150)])
                    + [(470, 640), (455, 600), (440, 570), (420, 530), (403, 515), (432, 500), (450, 470), (463, 430)])
region_v = z1([(1010, 1275), (1220, 1215), (1220, 1185), (1320, 1135), (1325, 1280), (1295, 1380), (1235, 1390),
               (1230, 1420), (1170, 1385), (1165, 1450), (1100, 1430), (1060, 1330)])

vi_vii_line = z1([(1165, 1450), (1200, 1465), (1350, 1568)]) + z2([(1240, 130)])
vii_white_line = z2(vii_cluster_edge + [(1080, 370)])
vi_white_line = z8(vi_cluster_edge) + z1([(1315, 1125), (1320, 1135)])

fig = go.Figure()


def add_area(pts, fill, line_color=None, width=0, smooth=True):
    xs = [p[0] for p in pts] + [pts[0][0]]
    ys = [p[1] for p in pts] + [pts[0][1]]
    shape = "spline" if smooth else "linear"
    fig.add_trace(go.Scatter(x=xs, y=ys, mode="lines", fill="toself", fillcolor=fill,
                             line=dict(color=line_color or fill, width=width, shape=shape, smoothing=0.6),
                             hoverinfo="skip", showlegend=False))


def add_line(pts, color, width):
    fig.add_trace(go.Scatter(x=[p[0] for p in pts], y=[p[1] for p in pts], mode="lines",
                             line=dict(color=color, width=width, shape="spline", smoothing=0.6),
                             hoverinfo="skip", showlegend=False))


# sea stays straight edged, a spline would spill over the frame at the corners
add_area(coast_nw + coast_w + coast_se + [(1167, 1261), (9, 1261)], SEA, smooth=False)
add_area(inland_border + coast_w[::-1], RED, BORDER, 5)

for area in orange_areas:
    add_area(area, ORANGE, ORANGE, 1)
add_area(low_patch, LOW, "#ffffff", 4)
add_line(red_north_line, INNER, 2.5)

# redraw the province edge so the orange fills do not eat it
add_line(inland_border, BORDER, 5)
add_line(coast_nw, BORDER, 4)
add_line(coast_se, BORDER, 4)
add_line(coast_w[:46], BORDER, 5)

for line in inner_lines:
    add_line(line, INNER, 2.5)

add_area(region_fiumicino, ORANGE)
add_line(z1([(0, 565), (30, 545), (100, 522), (135, 537)]), INNER, 2.5)
add_line(region_fiumicino[3:-14], "#ffffff", 4.5)
add_area(region_iii, ORANGE, "#ffffff", 4.5)
add_area(region_iv, ORANGE, "#ffffff", 4.5)
add_area(region_xiv, ORANGE, "#ffffff", 4.5)
add_area(region_xv, LOW, "#ffffff", 4.5)
add_area(region_xiii, LOW, "#ffffff", 4.5)
add_area(region_xii, LOW, "#ffffff", 4.5)
add_area(region_xi, ORANGE, "#ffffff", 4.5)
add_area(region_ix, ORANGE, "#ffffff", 4.5)
add_area(region_viii, LIMITED, "#ffffff", 4.5)
add_area(region_i, LOW, "#ffffff", 4.5)
add_area(region_ii, HIGH, "#ffffff", 4.5)
add_area(region_v, RED, "#ffffff", 4.5)
add_area(region_x, RED, "#ffffff", 4.5)

add_line(vi_vii_line, "#ffffff", 4.5)
add_line(vii_white_line, "#ffffff", 4.5)
add_line(vi_white_line, "#ffffff", 4.5)
add_line(vatican_line, "#111111", 5)
add_area(lake_outline, "#ffffff", BORDER, 4)
add_line(coast_w[21:41], BORDER, 4.5)

# numerals with a white halo
halo = ", ".join(f"{x}px {y}px 2px #ffffff" for x, y in
                 [(-4, 0), (4, 0), (0, -4), (0, 4), (-3, -3), (3, -3), (-3, 3), (3, 3)])
fig.add_trace(go.Scatter(x=label_x, y=label_y, text=label_text, mode="text", hoverinfo="skip", showlegend=False,
                         textposition="middle center",
                         textfont=dict(family="Liberation Serif", size=60, color="#000000", shadow=halo)))

# legend, drawn by hand to get the large squares
fig.add_trace(go.Scatter(x=[50.5] * len(legend_y), y=legend_y, mode="markers", hoverinfo="skip", showlegend=False,
                         marker=dict(symbol="square", size=98, color=legend_colors,
                                     line=dict(color="#888888", width=2))))
fig.add_trace(go.Scatter(x=[88] * len(legend_y), y=legend_y, text=legend_labels, mode="text", hoverinfo="skip",
                         showlegend=False, textposition="middle right",
                         textfont=dict(family="Liberation Serif", size=93, color="#111111")))

fig.update_layout(
    width=4272, height=3461,
    margin=dict(l=0, r=0, t=0, b=0),
    paper_bgcolor="#ffffff",
    plot_bgcolor="#ffffff",
    xaxis=dict(range=[0, 1568], visible=False, fixedrange=True),
    yaxis=dict(range=[3461 / SCALE, 0], visible=False, fixedrange=True),
    shapes=[
        dict(type="rect", x0=8.5, x1=1559.5, y0=8.5, y1=1261, layer="below", fillcolor=LAND, line=dict(width=0)),
        dict(type="rect", x0=8.5, x1=1559.5, y0=8.5, y1=1261, layer="above", line=dict(color="#555555", width=3)),
    ],
)

# the browser window can come out narrower than asked, so fit the figure to whatever it is
fit_to_window = """
document.body.style.margin = '0';
Plotly.relayout(document.getElementById('{plot_id}'), {width: window.innerWidth, height: window.innerHeight});
"""
fig.write_html("out.html", post_script=fit_to_window, config={"displayModeBar": False})
